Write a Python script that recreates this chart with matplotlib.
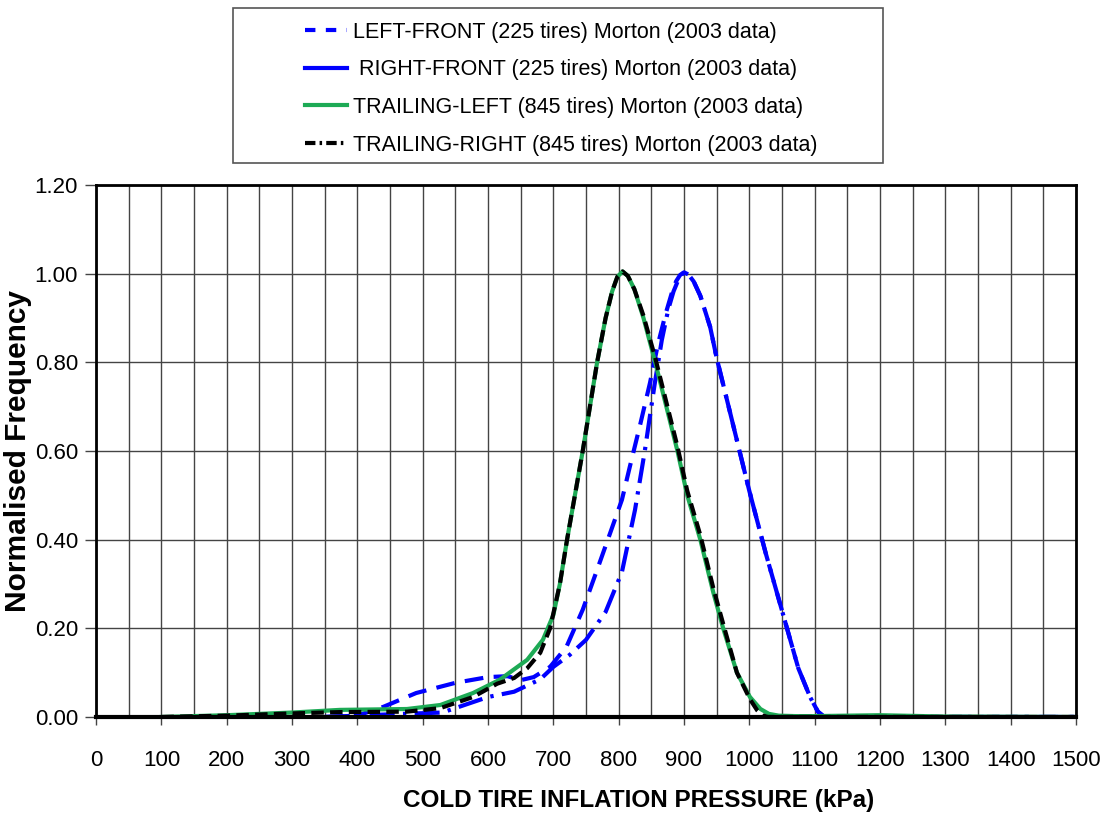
import matplotlib.pyplot as plt
from matplotlib.lines import Line2D
from matplotlib.patches import Rectangle
from matplotlib.ticker import MultipleLocator

plt.rcParams['font.family'] = ['Liberation Sans', 'DejaVu Sans']

# cold inflation pressure (kPa) and normalised frequency per wheel position
lf_kpa = [350, 400, 440, 490, 550, 600, 630, 650, 670, 695, 720, 745, 767, 787,
          805, 817, 833, 848, 860, 872, 881, 888, 894, 900, 907, 915, 925, 940,
          950, 975, 1000, 1025, 1050, 1075, 1093, 1105, 1115, 1500]
lf_freq = [0.0, 0.003, 0.023, 0.054, 0.077, 0.09, 0.092, 0.083, 0.09, 0.113,
           0.158, 0.242, 0.332, 0.415, 0.49, 0.564, 0.66, 0.754, 0.84, 0.91,
           0.955, 0.983, 0.997, 1.003, 0.998, 0.982, 0.95, 0.88, 0.81, 0.66,
           0.51, 0.37, 0.24, 0.11, 0.045, 0.012, 0.0, 0.0]

rf_kpa = [350, 400, 450, 530, 600, 640, 680, 700, 725, 750, 780, 805, 825, 840,
          855, 866, 876, 884, 891, 896, 900, 907, 915, 925, 940, 950, 975, 1000,
          1025, 1050, 1075, 1093, 1105, 1115, 1500]
rf_freq = [0.0, 0.003, 0.006, 0.01, 0.045, 0.057, 0.085, 0.113, 0.14, 0.174,
           0.237, 0.327, 0.467, 0.6, 0.75, 0.85, 0.92, 0.96, 0.985, 0.997,
           1.003, 0.998, 0.982, 0.95, 0.88, 0.81, 0.66, 0.51, 0.37, 0.24, 0.11,
           0.045, 0.012, 0.0, 0.0]

tl_kpa = [100, 200, 300, 373, 476, 527, 577, 618, 660, 684, 700, 710, 721, 745,
          767, 780, 790, 798, 806, 814, 824, 838, 856, 890, 905, 925, 945, 960,
          981, 1001, 1017, 1030, 1045, 1070, 1100, 1200, 1300, 1500]
tl_freq = [0.0, 0.004, 0.01, 0.016, 0.018, 0.027, 0.054, 0.084, 0.129, 0.174,
           0.23, 0.3, 0.4, 0.6, 0.8, 0.9, 0.96, 0.993, 1.005, 0.995, 0.965, 0.9,
           0.8, 0.6, 0.5, 0.4, 0.28, 0.2, 0.1, 0.045, 0.018, 0.007, 0.003,
           0.002, 0.002, 0.004, 0.001, 0.0]

tr_kpa = [100, 200, 300, 373, 476, 527, 577, 614, 640, 660, 680, 695, 710, 721,
          745, 767, 780, 790, 798, 806, 814, 824, 838, 856, 890, 905, 925, 945,
          960, 981, 1001, 1012, 1020, 1028, 1500]
tr_freq = [0.0, 0.003, 0.008, 0.011, 0.012, 0.02, 0.045, 0.075, 0.088, 0.11,
           0.145, 0.2, 0.3, 0.4, 0.6, 0.8, 0.9, 0.96, 0.993, 1.005, 0.995,
           0.965, 0.905, 0.81, 0.61, 0.51, 0.41, 0.29, 0.21, 0.1, 0.04, 0.015,
           0.004, 0.0, 0.0]

labels = [
    "LEFT-FRONT (225 tires) Morton (2003 data)",
    " RIGHT-FRONT (225 tires) Morton (2003 data)",
    "TRAILING-LEFT (845 tires) Morton (2003 data)",
    "TRAILING-RIGHT (845 tires) Morton (2003 data)",
]

BLUE = "#0000ff"
GREEN = "#1daa55"

fig = plt.figure(figsize=(11.04, 8.14), dpi=100)
ax = fig.add_axes([0.087, 0.1192, 0.8876, 0.6535])

ax.plot(lf_kpa, lf_freq, color=BLUE, lw=3, dashes=(4.5, 2.5))
ax.plot(rf_kpa, rf_freq, color=BLUE, lw=3, dashes=(6, 2, 0.8, 2))
ax.plot(tl_kpa, tl_freq, color=GREEN, lw=3)
ax.plot(tr_kpa, tr_freq, color="black", lw=3, dashes=(3, 1.5))

ax.set_xlim(0, 1500)
ax.set_ylim(0, 1.2)
ax.xaxis.set_major_locator(MultipleLocator(100))
ax.xaxis.set_minor_locator(MultipleLocator(50))
ax.yaxis.set_major_locator(MultipleLocator(0.2))
ax.yaxis.set_major_formatter(lambda v, p: f"{v:.2f}")
ax.grid(which="both", axis="x", color="#444444", lw=1)
ax.grid(which="major", axis="y", color="#444444", lw=1)
ax.set_axisbelow(True)
ax.tick_params(axis="x", which="major", length=6, width=1, color="#444444",
               pad=18, labelsize=16)
ax.tick_params(axis="x", which="minor", length=0)
ax.tick_params(axis="y", length=8, width=1, color="#444444", pad=5,
               labelsize=16)
for side in ["left", "right", "top"]:
    ax.spines[side].set_linewidth(2)
ax.spines["bottom"].set_linewidth(3)

ax.set_xlabel("COLD TIRE INFLATION PRESSURE (kPa)", fontsize=17.5,
              fontweight="bold")
ax.xaxis.set_label_coords(0.554, -0.136)
ax.set_ylabel("Normalised Frequency", fontsize=21.5, fontweight="bold",
              labelpad=2)

# legend box with sample lines
fig.patches.append(Rectangle((0.211, 0.800), 0.589, 0.190,
                             transform=fig.transFigure, fill=False,
                             edgecolor="#555555", lw=1.2))
handles = [
    Line2D([], [], color=BLUE, lw=3, dashes=(2.5, 2.5)),
    Line2D([], [], color=BLUE, lw=3),
    Line2D([], [], color=GREEN, lw=3),
    Line2D([], [], color="black", lw=3, dashes=(2.5, 1, 0.6, 1)),
]
fig.legend(handles, labels, loc="upper left", bbox_to_anchor=(0.259, 0.997),
           frameon=False, fontsize=15.5, handlelength=1.95,
           handletextpad=0.28, labelspacing=0.77)

fig.savefig("out.png", dpi=100)
